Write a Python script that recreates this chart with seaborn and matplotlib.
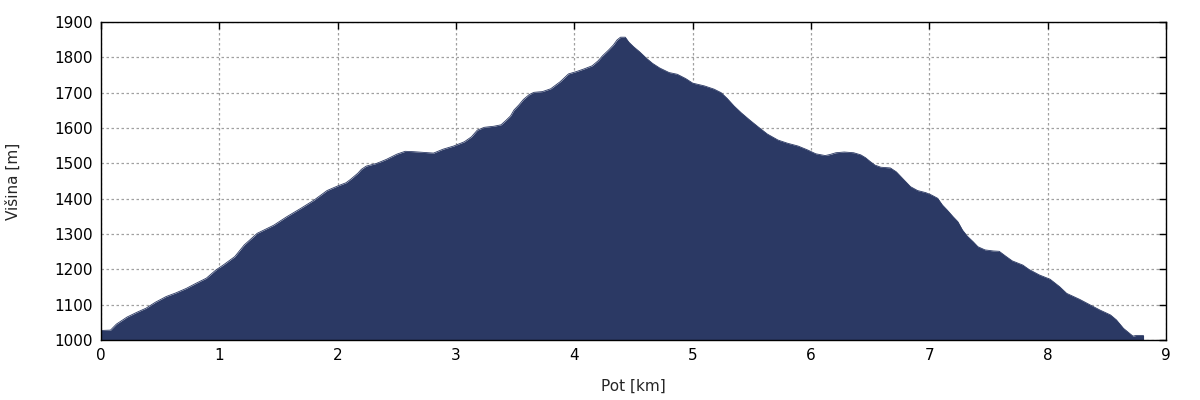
import numpy as np
import pandas as pd
import matplotlib
matplotlib.use('Agg')
import matplotlib.pyplot as plt
import seaborn as sns

# Elevation profile (distance in km, elevation in m)
pot_km = [0.00, 0.08, 0.13, 0.22, 0.30, 0.38, 0.46, 0.55, 0.63, 0.72,
          0.80, 0.89, 0.97, 1.04, 1.13, 1.21, 1.32, 1.46, 1.57, 1.69,
          1.80, 1.91, 2.00, 2.07, 2.11, 2.17, 2.20, 2.24, 2.33, 2.41,
          2.50, 2.57, 2.64, 2.72, 2.81, 2.89, 2.98, 3.07, 3.13, 3.18,
          3.24, 3.32, 3.38, 3.42, 3.46, 3.49, 3.53, 3.57, 3.62, 3.66,
          3.73, 3.80, 3.88, 3.95, 4.02, 4.08, 4.15, 4.20, 4.24, 4.29,
          4.33, 4.36, 4.39, 4.43, 4.46, 4.50, 4.55, 4.61, 4.66, 4.72,
          4.80, 4.87, 4.94, 5.00, 5.10, 5.18, 5.24, 5.29, 5.35, 5.41,
          5.48, 5.55, 5.63, 5.72, 5.80, 5.89, 5.97, 6.04, 6.12, 6.16,
          6.21, 6.28, 6.36, 6.42, 6.46, 6.50, 6.54, 6.59, 6.67, 6.72,
          6.76, 6.80, 6.84, 6.90, 6.97, 7.02, 7.07, 7.11, 7.15, 7.20,
          7.24, 7.28, 7.32, 7.37, 7.41, 7.47, 7.54, 7.59, 7.65, 7.70,
          7.79, 7.84, 7.93, 8.02, 8.10, 8.16, 8.27, 8.36, 8.44, 8.53,
          8.58, 8.64, 8.69, 8.72, 8.75, 8.81]
visina_m = [1027, 1028, 1045, 1065, 1078, 1090, 1107, 1123, 1133, 1146,
            1160, 1175, 1198, 1214, 1236, 1269, 1302, 1325, 1349, 1373,
            1396, 1423, 1436, 1445, 1455, 1472, 1483, 1492, 1500, 1511,
            1526, 1534, 1533, 1531, 1529, 1540, 1549, 1561, 1575, 1594,
            1602, 1605, 1609, 1621, 1634, 1651, 1665, 1681, 1695, 1701,
            1703, 1711, 1731, 1753, 1760, 1767, 1776, 1790, 1805, 1821,
            1835, 1849, 1857, 1857, 1843, 1830, 1816, 1797, 1783, 1770,
            1757, 1752, 1740, 1727, 1719, 1710, 1700, 1684, 1662, 1643,
            1623, 1604, 1583, 1566, 1557, 1549, 1538, 1527, 1522, 1525,
            1530, 1532, 1530, 1524, 1516, 1505, 1495, 1489, 1487, 1476,
            1462, 1448, 1434, 1423, 1417, 1410, 1401, 1382, 1368, 1349,
            1335, 1311, 1294, 1278, 1264, 1255, 1252, 1251, 1236, 1224,
            1212, 1200, 1184, 1172, 1151, 1132, 1115, 1099, 1085, 1071,
            1057, 1033, 1019, 1011, 1013, 1013]

x_ticks = list(range(0, 10))
y_ticks = list(range(1000, 2000, 100))

fill_color = '#2b3964'

df = pd.DataFrame({'pot': pot_km, 'visina': visina_m})

sns.set_style('white')
plt.rcParams['font.family'] = ['DejaVu Sans']

fig = plt.figure(figsize=(12, 4), dpi=100)
ax = fig.add_axes([0.0842, 0.15, 0.8875, 0.795])

# filled profile down to the bottom of the axis, with a thin outline on top
ax.fill_between(df['pot'], 1000, df['visina'], color=fill_color, linewidth=0, zorder=2)
sns.lineplot(data=df, x='pot', y='visina', ax=ax, color=fill_color, linewidth=0.6, zorder=3)

ax.set_xlim(0, 9)
ax.set_ylim(1000, 1900)
ax.set_xticks(x_ticks)
ax.set_yticks(y_ticks)
ax.tick_params(direction='in', length=5, width=1, top=True, right=True,
               labelsize=11, colors='black', pad=6)
ax.grid(True, linestyle=(0, (2, 2)), color='#a0a0a0', linewidth=0.9, zorder=1)
ax.set_axisbelow(True)
for s in ax.spines.values():
    s.set_color('black')
    s.set_linewidth(1)
    s.set_zorder(4)

ax.set_xlabel('Pot [km]', fontsize=11, labelpad=11)
ax.set_ylabel('Višina [m]', fontsize=11, labelpad=24)

fig.savefig('out.png', dpi=100)
